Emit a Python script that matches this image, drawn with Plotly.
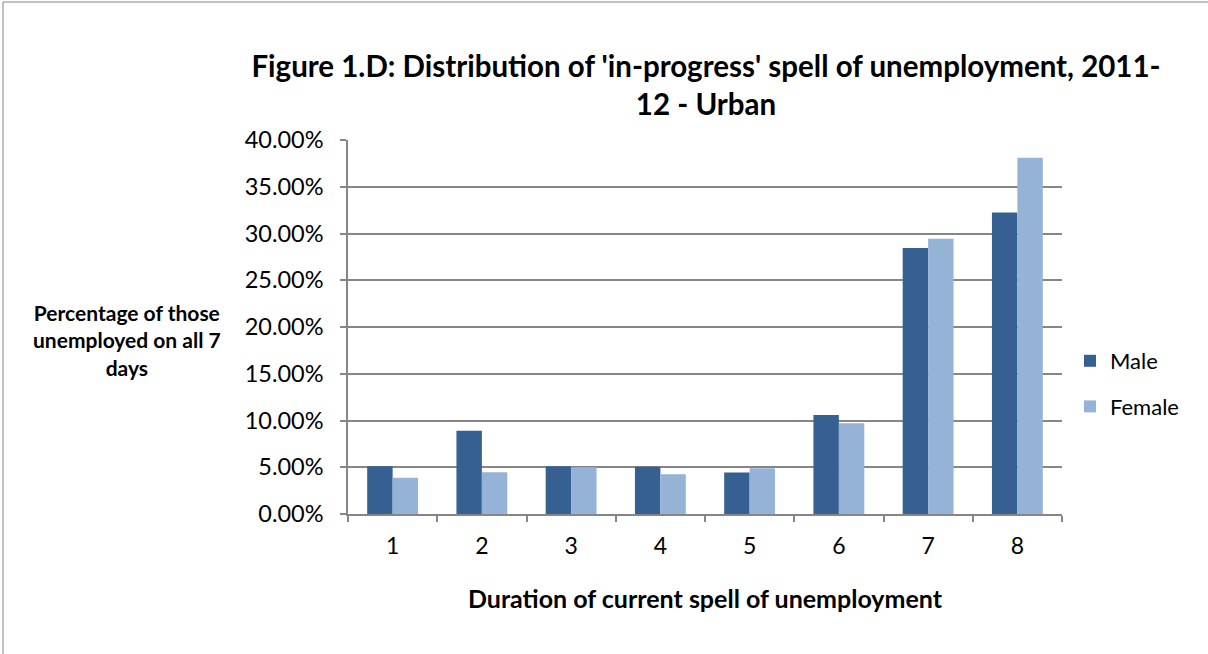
import plotly.graph_objects as go

categories = ["1", "2", "3", "4", "5", "6", "7", "8"]
male = [5.12, 8.9, 5.1, 5.05, 4.45, 10.6, 28.45, 32.25]
female = [3.88, 4.47, 5.0, 4.25, 4.9, 9.7, 29.45, 38.1]
male_pct = [v / 100 for v in male]
female_pct = [v / 100 for v in female]
ytick_vals = [0, 0.05, 0.10, 0.15, 0.20, 0.25, 0.30, 0.35, 0.40]

W, H = 1208, 654
L, R, T, B = 348, 146, 140, 140
pw, ph = W - L - R, H - T - B

def px(x):
    return (x - L) / pw

def py(y):
    return (H - B - y) / ph

FONT = "Lato"
fig = go.Figure()
fig.add_trace(go.Bar(x=categories, y=male_pct, name="Male", marker_color="#376092",
                     marker_line_width=0, legendgroup="m"))
fig.add_trace(go.Bar(x=categories, y=female_pct, name="Female", marker_color="#95B3D7",
                     marker_line_width=0, legendgroup="f"))

fig.update_layout(
    width=W, height=H,
    margin=dict(l=L, r=R, t=T, b=B),
    paper_bgcolor="white", plot_bgcolor="white",
    barmode="group", bargap=0.43, bargroupgap=0,
    font=dict(family=FONT, color="#000000", size=21),
    title=dict(text="<b>Figure 1.D: Distribution of 'in-progress' spell of unemployment, 2011-<br>12 - Urban</b>",
               x=706 / W, xanchor="center", y=1 - 77 / H, yanchor="top",
               font=dict(family=FONT, size=29.5, color="#000000")),
    legend=dict(x=px(1070), y=py(340), xanchor="left", yanchor="top",
                font=dict(family=FONT, size=22), tracegroupgap=14,
                bgcolor="rgba(0,0,0,0)", itemwidth=30),
    showlegend=True,
)
fig.update_xaxes(
    type="category", showline=True, linecolor="#868686", linewidth=1.5,
    ticks="outside", tickson="boundaries", ticklen=6, tickcolor="#868686", tickwidth=1.5,
    tickfont=dict(size=23), showgrid=False, ticklabelstandoff=11,
    title=dict(text="<b>Duration of current spell of unemployment</b>", standoff=32,
               font=dict(size=25)),
)
fig.update_yaxes(
    range=[0, 0.40], tickvals=ytick_vals, tickformat=".2%",
    showline=True, linecolor="#868686", linewidth=1.5,
    ticks="outside", ticklen=6, tickcolor="#868686", tickwidth=1.5,
    showgrid=True, gridcolor="#868686", gridwidth=1.5,
    tickfont=dict(size=23.5), zeroline=False, ticklabelstandoff=12,
)
fig.add_annotation(
    text="<b>Percentage of those<br>unemployed on all 7<br>days</b>",
    xref="paper", yref="paper", x=px(127), y=py(340), xanchor="center", yanchor="middle",
    showarrow=False, align="center", font=dict(family=FONT, size=21),
)
fig.add_shape(type="rect", xref="paper", yref="paper",
              x0=px(3), x1=px(1220), y0=py(666), y1=py(2),
              line=dict(color="#868686", width=1), fillcolor="rgba(0,0,0,0)", layer="below")

fig.write_html("out.html", config={"displayModeBar": False},
               post_script="document.body.style.margin='0px';")
